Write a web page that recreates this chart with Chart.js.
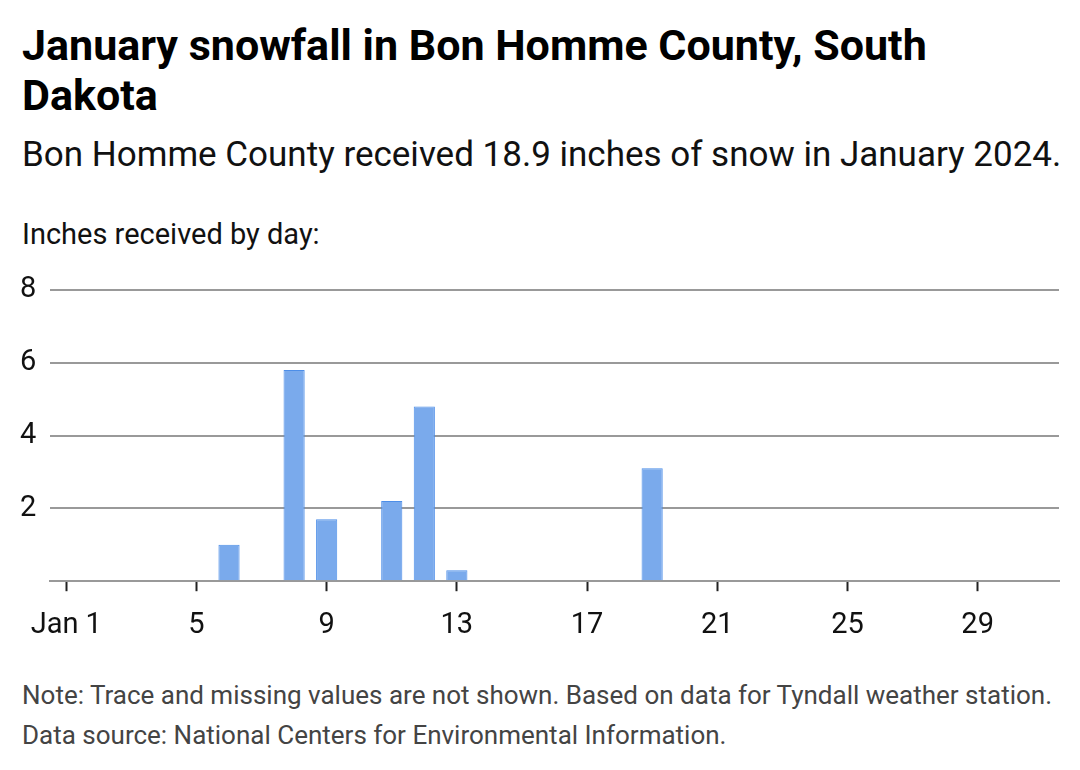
<!DOCTYPE html>
<html>
<head>
<meta charset="utf-8">
<script src="https://cdn.jsdelivr.net/npm/chart.js@4.4.1/dist/chart.umd.min.js"></script>
<style>
  html, body { margin: 0; padding: 0; background: #fff; }
  body { width: 1080px; height: 770px; position: relative; overflow: hidden; font-family: Roboto, "Noto Sans", sans-serif; }
  .title { position: absolute; left: 22px; top: 20px; width: 1000px; font-size: 43px; line-height: 50px; font-weight: 700; color: #000; margin: 0; }
  .subtitle { position: absolute; left: 22px; top: 137px; font-size: 35px; line-height: 35px; color: #111; white-space: nowrap; }
  .axis-label { position: absolute; left: 22px; top: 220px; font-size: 29px; line-height: 29px; color: #111; white-space: nowrap; }
  .chart-box { position: absolute; left: 0; top: 262px; width: 1080px; height: 406px; }
  .notes { position: absolute; left: 22px; top: 675px; font-size: 26px; line-height: 40px; color: #444; white-space: nowrap; }
</style>
</head>
<body>
<h1 class="title">January snowfall in Bon Homme County, South Dakota</h1>
<div class="subtitle">Bon Homme County received 18.9 inches of snow in January 2024.</div>
<div class="axis-label">Inches received by day:</div>
<div class="chart-box"><canvas id="snow"></canvas></div>
<div class="notes">
  Note: Trace and missing values are not shown. Based on data for Tyndall weather station.<br>
  Data source: National Centers for Environmental Information.
</div>
<script>
// days of January 2024
const days = ['Jan 1', '2', '3', '4', '5', '6', '7', '8', '9', '10', '11', '12', '13', '14', '15', '16',
              '17', '18', '19', '20', '21', '22', '23', '24', '25', '26', '27', '28', '29', '30', '31'];
// inches of snow per day (0 = none / trace / missing)
const snowfall = [0, 0, 0, 0, 0, 1.0, 0, 5.8, 1.7, 0, 2.2, 4.8, 0.3, 0, 0, 0,
                  0, 0, 3.1, 0, 0, 0, 0, 0, 0, 0, 0, 0, 0, 0, 0];
const yTicks = [2, 4, 6, 8];
const labelEvery = 4;

const tickFont = { family: 'Roboto', size: 29 };

new Chart(document.getElementById('snow'), {
  type: 'bar',
  data: {
    labels: days,
    datasets: [{
      label: 'Inches',
      data: snowfall,
      backgroundColor: '#7aaaec',
      borderColor: '#4d8ee8',
      borderWidth: 1,
      borderSkipped: 'start',
      categoryPercentage: 1,
      barPercentage: 0.65
    }]
  },
  options: {
    responsive: true,
    maintainAspectRatio: false,
    animation: false,
    layout: { padding: { left: 20, right: 21, top: 28, bottom: 8 } },
    plugins: {
      legend: { display: false },
      tooltip: { enabled: false }
    },
    scales: {
      x: {
        border: { display: true, color: '#999', width: 2 },
        grid: {
          drawOnChartArea: false,
          offset: false,
          tickLength: 10,
          tickWidth: 2,
          tickColor: ctx => ctx.index % labelEvery === 0 ? '#222' : 'rgba(0,0,0,0)'
        },
        ticks: {
          autoSkip: false,
          maxRotation: 0,
          padding: 17,
          color: '#111',
          font: tickFont,
          callback: function(value, index) {
            return index % labelEvery === 0 ? days[index] : '';
          }
        }
      },
      y: {
        min: 0,
        max: 8,
        afterFit: scale => { scale.width = 30; },
        afterBuildTicks: scale => {
          scale.ticks = [0].concat(yTicks).map(v => ({ value: v }));
        },
        border: { display: false },
        grid: { color: '#999', lineWidth: 2, drawTicks: false },
        ticks: {
          crossAlign: 'far',
          padding: 0,
          color: '#111',
          font: tickFont,
          callback: v => v === 0 ? '' : v
        }
      }
    }
  }
});
</script>
</body>
</html>
